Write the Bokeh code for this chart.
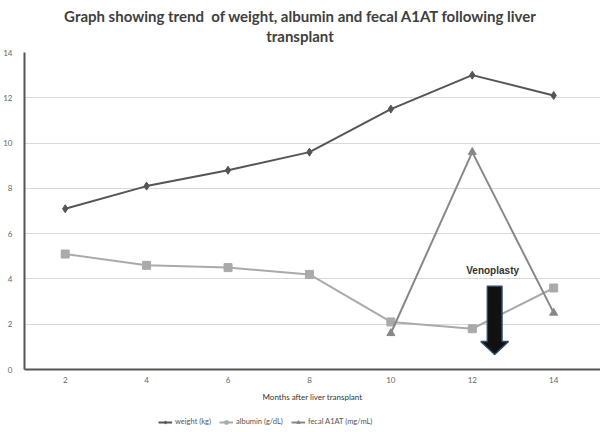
from bokeh.plotting import figure
from bokeh.layouts import column
from bokeh.models import Legend, LegendItem, Label, FixedTicker, Range1d, Div
from bokeh.embed import file_html
from bokeh.resources import INLINE

months = [2, 4, 6, 8, 10, 12, 14]
weight = [7.1, 8.1, 8.8, 9.6, 11.5, 13.0, 12.1]
albumin = [5.1, 4.6, 4.5, 4.2, 2.1, 1.8, 3.6]
a1at_months = [10, 12, 14]
a1at = [1.6, 9.6, 2.5]
y_ticks = [0, 2, 4, 6, 8, 10, 12, 14]
title_lines = ["Graph showing trend&nbsp; of weight, albumin and fecal A1AT following liver", "transplant"]
series_labels = ["weight (kg)", "albumin (g/dL)", "fecal A1AT (mg/mL)"]

arrow_x = 12.55
arrow_top = 3.68
arrow_neck = 1.24
arrow_tip = 0.66
shaft_half = 0.18
head_half = 0.34

FONT = "Lato"
W = 600

title = Div(text='<div style="padding-top:6px;line-height:20px;">' + "<br>".join(title_lines) + "</div>",
            width=W, height=46, margin=0,
            styles={"text-align": "center", "font-family": FONT, "font-weight": "bold",
                    "font-size": "15px", "color": "#404040", "width": f"{W}px"})

p = figure(width=W, height=358, output_backend="svg", toolbar_location=None,
           x_range=Range1d(1, 15.15), y_range=Range1d(0, 14),
           min_border_left=24, min_border_right=0, min_border_top=6,
           min_border_bottom=32)
p.outline_line_color = None
p.background_fill_color = "white"
p.border_fill_color = "white"

p.xgrid.grid_line_color = None
p.ygrid.grid_line_color = "#d9d9d9"
p.ygrid.grid_line_width = 1.2
p.ygrid.ticker = FixedTicker(ticks=y_ticks)

p.yaxis.ticker = FixedTicker(ticks=y_ticks)
p.xaxis.ticker = FixedTicker(ticks=months)
for ax in (p.xaxis, p.yaxis):
    ax.axis_line_color = "#555555"
    ax.axis_line_width = 2
    ax.major_tick_line_color = None
    ax.minor_tick_line_color = None
    ax.major_label_text_font = FONT
    ax.major_label_text_font_size = "8px"
    ax.major_label_text_color = "#666666"
p.yaxis.major_label_standoff = 6
p.xaxis.major_label_standoff = 1
p.xaxis.axis_label = "Months after liver transplant"
p.xaxis.axis_label_text_font = FONT
p.xaxis.axis_label_text_font_size = "8px"
p.xaxis.axis_label_text_font_style = "normal"
p.xaxis.axis_label_text_color = "#333333"
p.xaxis.axis_label_standoff = 6

styles = [dict(color="#555555", marker="diamond"),
          dict(color="#aaaaaa", marker="square"),
          dict(color="#888888", marker="triangle")]
series = [(months, weight), (months, albumin), (a1at_months, a1at)]

for (xs, ys), st in zip(series, styles):
    p.line(xs, ys, line_color=st["color"], line_width=2)
    p.scatter(xs, ys, marker=st["marker"], size=8, fill_color=st["color"], line_color=st["color"])

# Venoplasty arrow
ax_ = [arrow_x - shaft_half, arrow_x + shaft_half, arrow_x + shaft_half, arrow_x + head_half,
       arrow_x, arrow_x - head_half, arrow_x - shaft_half]
ay_ = [arrow_top, arrow_top, arrow_neck, arrow_neck, arrow_tip, arrow_neck, arrow_neck]
p.patch(ax_, ay_, fill_color="#111111", line_color="#2d4b6b", line_width=1.5)
p.add_layout(Label(x=12.5, y=4.39, text="Venoplasty", text_align="center", text_baseline="middle",
                   text_font="Liberation Sans", text_font_size="10px", text_font_style="bold",
                   text_color="#333333"))

# legend strip below the chart (its renderers lie outside its visible range)
lg = figure(width=W, height=26, output_backend="svg", toolbar_location=None,
            x_range=Range1d(100, 101), y_range=Range1d(100, 101), x_axis_type=None, y_axis_type=None,
            min_border=0, min_border_left=0, min_border_right=0, min_border_top=0, min_border_bottom=0)
lg.outline_line_color = None
lg.xgrid.grid_line_color = None
lg.ygrid.grid_line_color = None
items = []
for lab, (xs, ys), st in zip(series_labels, series, styles):
    r1 = lg.line(xs, ys, line_color=st["color"], line_width=2)
    r2 = lg.scatter(xs, ys, marker=st["marker"], size=6, fill_color=st["color"], line_color=st["color"])
    items.append(LegendItem(label=lab, renderers=[r1, r2]))
legend = Legend(items=items, orientation="horizontal", location=(134, 4), border_line_color=None,
                label_text_font=FONT, label_text_font_size="7.5px", label_text_color="#555555",
                glyph_width=14, glyph_height=8, spacing=8, label_standoff=3,
                padding=1, margin=0, background_fill_alpha=0)
lg.add_layout(legend)

layout = column(title, p, lg, spacing=0)
open("out.html", "w").write(file_html(layout, INLINE))
